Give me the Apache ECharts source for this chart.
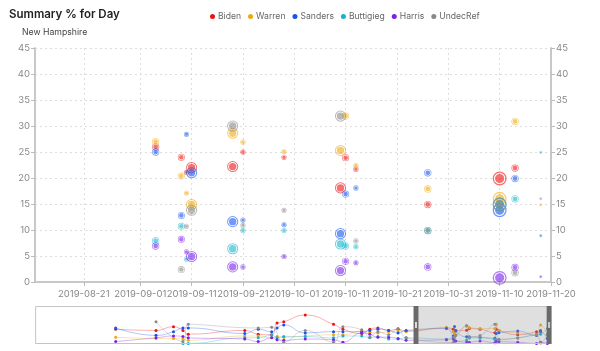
<!DOCTYPE html>
<html>
<head>
<meta charset="utf-8">
<script src="https://cdn.jsdelivr.net/npm/echarts@6/dist/echarts.min.js"></script>
<style>
  html, body { margin: 0; padding: 0; background: #fff; }
  #main { width: 600px; height: 351px; }
</style>
</head>
<body>
<div id="main"></div>
<script>
// poll dates (all polls, main view is zoomed to the last ~100 days)
var pollDates = [
  '2019-01-01','2019-01-31','2019-02-13','2019-02-20','2019-02-24','2019-04-07','2019-04-17',
  '2019-04-27','2019-05-01','2019-05-06','2019-05-22','2019-06-12','2019-06-19','2019-07-03',
  '2019-07-09','2019-07-15','2019-07-23','2019-07-30','2019-08-05',
  '2019-09-04','2019-09-09','2019-09-10','2019-09-11','2019-09-19','2019-09-21','2019-09-29',
  '2019-10-10','2019-10-11','2019-10-13','2019-10-27','2019-11-10','2019-11-13','2019-11-18'
];
// respondents per poll
var sampleN = [400,500,400,600,400,500,600,500,400,500,600,500,600,500,400,600,500,600,400,
  300,280,150,700,700,150,150,700,280,150,300,1100,300,50];

var biden = [24,22,28,22,16,22,16,15,34,36,47,32,24,17,24,26,22,24,21,
  26,24,21.1,22,22.2,25,24,18.1,23.9,21.7,14.9,19.9,21.9,null];
var warren = [11,9,9,8,6,13,13,10,12,11,13,15,15,21,19,18,20,21,20,
  27,20.4,17.1,14.9,28.6,26.9,25.1,25.3,31.9,22.4,17.9,16,30.9,14.8];
var sanders = [26,14,20,26,26,17,24,20,26,31,18,20,20,20,22,24,22,18,22,
  25,12.8,28.4,21,11.6,11.9,11,9.3,16.9,18.1,21,13.8,19.9,8.9];
var buttigieg = [null,null,null,1,1,10,10,14,10,12,12,10,13,13,10,12,8,8,10,
  7.9,10.7,4.4,null,6.4,9.9,9.9,7.3,6.9,6.8,9.9,14.9,16,24.9];
var harris = [4,10,13,12,10,8,4,10,7,6,8,7,3,18,16,11,11,9,6,
  6.9,8.2,5.8,4.9,2.9,2.9,4.9,2.2,4.0,3.7,2.9,0.8,2.8,1.0];
var undecRef = [null,36,null,4,32,null,26,27,null,3,22,3,28,23,11,20,15,25,10,
  null,2.4,10.7,13.8,30,10.9,13.8,31.9,null,7.9,9.9,14.9,1.8,16];

var candidates = ['Biden','Warren','Sanders','Buttigieg','Harris','UndecRef'];
var values = [biden, warren, sanders, buttigieg, harris, undecRef];
var colors = ['#ee1111','#f0a80e','#1453f0','#12b5cb','#7a1ff0','#888888'];

var xTicks = ['2019-08-21','2019-09-01','2019-09-11','2019-09-21','2019-10-01',
  '2019-10-11','2019-10-21','2019-10-31','2019-11-10','2019-11-20'];

var fullStart = '2018-11-02', fullEnd = '2019-11-20';
var viewStart = '2019-08-11 12:00';

var font = 'Inter';
var ring = 'path://M10,0A10,10,0,1,1,10,20A10,10,0,1,1,10,0Z' +
  'M10,1.8A8.2,8.2,0,1,0,10,18.2A8.2,8.2,0,1,0,10,1.8Z' +
  'M10,3.4A6.6,6.6,0,1,1,10,16.6A6.6,6.6,0,1,1,10,3.4Z';

function ts(s) { return new Date(s.replace(' ', 'T')).getTime(); }
var tickTs = xTicks.map(ts);

var series = [];
candidates.forEach(function (name, k) {
  var pts = [], line = [];
  pollDates.forEach(function (d, i) {
    var v = values[k][i];
    if (v == null) return;
    pts.push([ts(d), v, sampleN[i]]);
    line.push([ts(d), v]);
  });
  series.push({
    name: name, type: 'scatter', xAxisIndex: 0, yAxisIndex: 0,
    symbol: ring,
    symbolSize: function (v) { return Math.sqrt(v[2]) * 0.42; },
    itemStyle: { color: colors[k], opacity: 0.6 },
    data: pts
  });
  series.push({
    name: name, type: 'line', xAxisIndex: 1, yAxisIndex: 2,
    smooth: true, symbol: 'circle', symbolSize: 3, showSymbol: true,
    silent: true, connectNulls: true,
    itemStyle: { color: colors[k] },
    lineStyle: { width: 1, opacity: 0.33 },
    data: line
  });
});

var chart = echarts.init(document.getElementById('main'));
chart.setOption({
  animation: false,
  textStyle: { fontFamily: font },
  title: [
    { text: 'Summary % for Day', left: 4, top: 4,
      textStyle: { fontSize: 11.5, fontWeight: 600, color: '#222', fontFamily: font } },
    { text: 'New Hampshire', left: 17, top: 23,
      textStyle: { fontSize: 8.7, fontWeight: 'normal', color: '#444', fontFamily: font } }
  ],
  legend: {
    data: candidates, left: 205, top: 7, icon: 'circle',
    itemWidth: 5, itemHeight: 5, itemGap: 7,
    itemStyle: { opacity: 1 },
    textStyle: { fontSize: 8.6, color: '#666', fontFamily: font, padding: [0, 0, 0, -2] }
  },
  grid: [
    { left: 35, right: 49, top: 48, height: 234 },
    { left: 35, right: 50, top: 307, height: 37 }
  ],
  xAxis: [
    { type: 'time', gridIndex: 0, min: ts(fullStart), max: ts(fullEnd),
      axisLine: { lineStyle: { color: '#c8c8c8', width: 2 } },
      axisTick: { show: true, customValues: tickTs, length: 4, lineStyle: { color: '#bbb' } },
      axisLabel: { customValues: tickTs, formatter: '{yyyy}-{MM}-{dd}',
        color: '#888', fontSize: 9.5, fontFamily: font, margin: 7, hideOverlap: false },
      splitLine: { show: true, lineStyle: { color: '#ddd', type: [2, 3] } }
    },
    { type: 'time', gridIndex: 1, min: ts(fullStart), max: ts(fullEnd), show: false }
  ],
  yAxis: [
    { type: 'value', gridIndex: 0, min: 0, max: 45, interval: 5,
      axisLine: { show: true, lineStyle: { color: '#c8c8c8', width: 2 } },
      axisTick: { show: true, length: 4, lineStyle: { color: '#bbb' } },
      axisLabel: { color: '#888', fontSize: 9.5, fontFamily: font, margin: 5 },
      splitLine: { show: true, lineStyle: { color: '#ddd', type: [2, 3] } }
    },
    { type: 'value', gridIndex: 0, position: 'right', min: 0, max: 45, interval: 5,
      axisLine: { show: true, lineStyle: { color: '#c8c8c8', width: 2 } },
      axisTick: { show: true, length: 4, lineStyle: { color: '#bbb' } },
      axisLabel: { color: '#888', fontSize: 9.5, fontFamily: font, margin: 5 },
      splitLine: { show: false }
    },
    { type: 'value', gridIndex: 1, min: 0, max: 60, show: false }
  ],
  dataZoom: [{
    type: 'slider', xAxisIndex: 0, filterMode: 'filter',
    startValue: ts(viewStart), endValue: ts(fullEnd),
    left: 35, right: 50, top: 306, height: 38,
    showDataShadow: false, showDetail: false, brushSelect: false,
    moveHandleSize: 0,
    backgroundColor: 'rgba(0,0,0,0)',
    borderColor: '#c4c4c4',
    fillerColor: 'rgba(150,150,150,0.3)',
    handleIcon: 'path://M0,0H13V100H0Z M4,42V58H9V42Z',
    handleSize: '100%',
    handleStyle: { color: '#6a6a6a', borderWidth: 0 },
    emphasis: { handleStyle: { color: '#6a6a6a', borderWidth: 0 } }
  }],
  series: series
});
</script>
</body>
</html>
